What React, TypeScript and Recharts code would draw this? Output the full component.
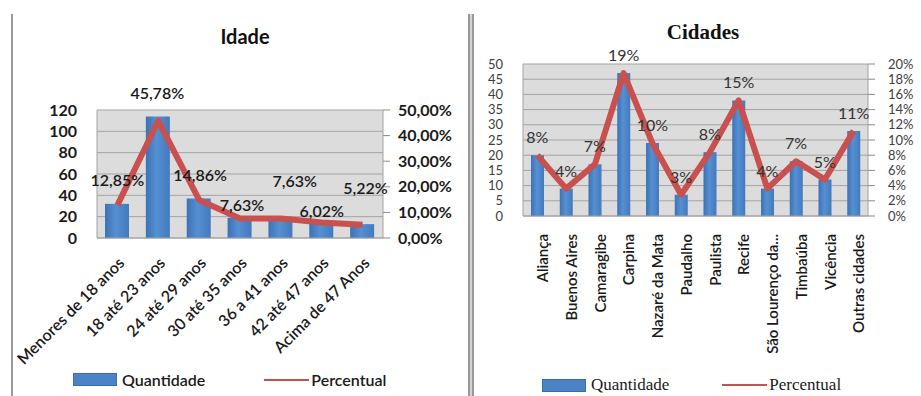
import React from 'react';
import { Bar, CartesianGrid, ComposedChart, LabelList, Legend, Line, XAxis, YAxis } from 'recharts';

// Idade
const idadeFaixas = [
  'Menores de 18 anos',
  '18 até 23 anos',
  '24 até 29 anos',
  '30 até 35 anos',
  '36 a 41 anos',
  '42 até 47 anos',
  'Acima de 47 Anos',
];
const idadeQuantidade = [32, 114, 37, 19, 19, 15, 13];
const idadePercentual = [12.85, 45.78, 14.86, 7.63, 7.63, 6.02, 5.22];
const idadeTicksQtd = [0, 20, 40, 60, 80, 100, 120];
const idadeTicksPct = [0, 10, 20, 30, 40, 50];

// Cidades
const cidades = [
  'Aliança',
  'Buenos Aires',
  'Camaragibe',
  'Carpina',
  'Nazaré da Mata',
  'Paudalho',
  'Paulista',
  'Recife',
  'São Lourenço da...',
  'Timbaúba',
  'Vicência',
  'Outras cidades',
];
const cidadesQuantidade = [20, 9, 17, 47, 24, 7, 21, 38, 9, 18, 12, 28];
const cidadesPercentual = [8.0, 3.6, 6.8, 18.8, 9.6, 2.8, 8.4, 15.2, 3.6, 7.2, 4.8, 11.2];
const cidadesTicksQtd = [0, 5, 10, 15, 20, 25, 30, 35, 40, 45, 50];
const cidadesTicksPct = [0, 2, 4, 6, 8, 10, 12, 14, 16, 18, 20];

// the Idade labels were moved by hand in the original, so nudge them the same way
const idadeLabelNudge = [
  [0, -19],
  [-1, -22],
  [1, -19],
  [2, -7],
  [14, -31],
  [0, -6],
  [3, -31],
];

const idadeData = idadeFaixas.map((name, i) => ({ name, qtd: idadeQuantidade[i], pct: idadePercentual[i] }));
const cidadesData = cidades.map((name, i) => ({ name, qtd: cidadesQuantidade[i], pct: cidadesPercentual[i] }));

const BLUE = '#4a83c6';
const RED = '#c8504e';
const GRID = '#a3a3a3';
const PLOT_BG = '#dcdcdc';

const fmtPct2 = (v: number) => v.toFixed(2).replace('.', ',') + '%';

const LegendBox = ({ font, size, weight, gap }: { font: string; size: number; weight: number | string; gap: number }) => (
  <div style={{ display: 'flex', alignItems: 'center', fontFamily: font, fontSize: size, fontWeight: weight, color: '#1a1a1a', whiteSpace: 'nowrap' }}>
    <span style={{ display: 'inline-block', width: 44, height: 13, background: BLUE, border: '1px solid #3b6ea8', boxSizing: 'border-box', marginRight: 5 }} />
    <span>Quantidade</span>
    <span style={{ display: 'inline-block', width: 45, height: 2, background: RED, marginLeft: gap, marginRight: 2 }} />
    <span>Percentual</span>
  </div>
);

const BarGradient = ({ id }: { id: string }) => (
  <defs>
    <linearGradient id={id} x1="0" y1="0" x2="1" y2="0">
      <stop offset="0%" stopColor="#3d72b4" />
      <stop offset="45%" stopColor="#5590d3" />
      <stop offset="100%" stopColor="#4379bd" />
    </linearGradient>
  </defs>
);

const IdadeChart = () => (
  <ComposedChart width={460} height={396} data={idadeData} margin={{ top: 110, right: 7, bottom: 58, left: 10 }}>
    <BarGradient id="barIdade" />
    <CartesianGrid yAxisId="qtd" vertical={false} fill={PLOT_BG} stroke={GRID} />
    <XAxis
      dataKey="name"
      interval={0}
      angle={-45}
      textAnchor="end"
      height={100}
      tickLine={false}
      tickSize={0}
      tickMargin={18}
      axisLine={{ stroke: GRID }}
      tick={{ fill: '#1a1a1a', fontSize: 16, fontFamily: 'Lato', fontWeight: 600 }}
    />
    <YAxis
      yAxisId="qtd"
      domain={[0, 120]}
      ticks={idadeTicksQtd}
      interval={0}
      width={87}
      tickLine={false}
      tickSize={0}
      tickMargin={20}
      axisLine={{ stroke: GRID }}
      tick={{ fill: '#1a1a1a', fontSize: 16, fontFamily: 'Lato', fontWeight: 700 }}
    />
    <YAxis
      yAxisId="pct"
      orientation="right"
      domain={[0, 50]}
      ticks={idadeTicksPct}
      interval={0}
      tickFormatter={fmtPct2}
      width={70}
      tickSize={7}
      tickMargin={8}
      axisLine={{ stroke: GRID }}
      tickLine={{ stroke: '#8a8a8a' }}
      tick={{ fill: '#1a1a1a', fontSize: 16, fontFamily: 'Lato', fontWeight: 700 }}
    />
    <Bar yAxisId="qtd" dataKey="qtd" name="Quantidade" fill="url(#barIdade)" barSize={24} isAnimationActive={false} />
    <Line
      yAxisId="pct"
      type="linear"
      dataKey="pct"
      name="Percentual"
      stroke={RED}
      strokeWidth={6}
      strokeLinejoin="round"
      dot={false}
      activeDot={false}
      isAnimationActive={false}
    >
      <LabelList
        dataKey="pct"
        content={(p: any) => {
          const [dx, dy] = idadeLabelNudge[p.index] || [0, -20];
          return (
            <text x={p.x + dx} y={p.y + dy} textAnchor="middle" fill="#1a1a1a" fontSize={16} fontFamily="Lato" fontWeight={600}>
              {fmtPct2(p.value)}
            </text>
          );
        }}
      />
    </Line>
    <Legend
      layout="horizontal"
      verticalAlign="middle"
      align="center"
      wrapperStyle={{ top: 370, left: 73, width: 360 }}
      content={() => <LegendBox font="Lato" size={16} weight={600} gap={59} />}
    />
  </ComposedChart>
);

const CidadesChart = () => (
  <ComposedChart width={451} height={396} data={cidadesData} margin={{ top: 64, right: 5, bottom: 50, left: 13 }}>
    <BarGradient id="barCidades" />
    <CartesianGrid yAxisId="qtd" vertical={false} fill={PLOT_BG} stroke={GRID} />
    <XAxis
      dataKey="name"
      interval={0}
      angle={-90}
      textAnchor="end"
      height={130}
      tickLine={false}
      tickSize={0}
      tickMargin={18}
      axisLine={{ stroke: GRID }}
      tick={{ fill: '#1a1a1a', fontSize: 15, fontFamily: 'Lato', fontWeight: 600 }}
    />
    <YAxis
      yAxisId="qtd"
      domain={[0, 50]}
      ticks={cidadesTicksQtd}
      interval={0}
      width={40}
      tickLine={false}
      tickSize={0}
      tickMargin={20}
      axisLine={{ stroke: GRID }}
      tick={{ fill: '#404040', fontSize: 13, fontFamily: 'Lato' }}
    />
    <YAxis
      yAxisId="pct"
      orientation="right"
      domain={[0, 20]}
      ticks={cidadesTicksPct}
      interval={0}
      tickFormatter={(v: number) => `${v}%`}
      width={48}
      tickSize={7}
      tickMargin={13}
      axisLine={{ stroke: GRID }}
      tickLine={{ stroke: '#8a8a8a' }}
      tick={{ fill: '#404040', fontSize: 13, fontFamily: 'Lato' }}
    />
    <Bar yAxisId="qtd" dataKey="qtd" name="Quantidade" fill="url(#barCidades)" barSize={13} isAnimationActive={false} />
    <Line
      yAxisId="pct"
      type="linear"
      dataKey="pct"
      name="Percentual"
      stroke={RED}
      strokeWidth={6}
      strokeLinejoin="round"
      dot={false}
      activeDot={false}
      isAnimationActive={false}
    >
      <LabelList
        dataKey="pct"
        content={(p: any) => (
          <text x={p.x} y={p.y - 12} textAnchor="middle" fill="#333" fontSize={16} fontFamily="Lato">
            {`${Math.round(p.value)}%`}
          </text>
        )}
      />
    </Line>
    <Legend
      layout="horizontal"
      verticalAlign="middle"
      align="center"
      wrapperStyle={{ top: 375, left: 72, width: 360 }}
      content={() => <LegendBox font="'Liberation Serif'" size={17} weight={400} gap={53} />}
    />
  </ComposedChart>
);

export default function App() {
  return (
    <div style={{ position: 'absolute', left: 0, top: 0, width: 921, height: 396, background: '#fff', overflow: 'hidden' }}>
      <div style={{ position: 'absolute', left: 11, top: 14, width: 2, height: 382, background: '#9a9a9a' }} />
      <div
        style={{
          position: 'absolute',
          left: 468,
          top: 14,
          width: 2,
          height: 382,
          background: '#d4d4d4',
          borderLeft: '2px solid #999',
          borderRight: '2px solid #999',
          zIndex: 2,
        }}
      />
      <div style={{ position: 'absolute', left: 0, top: 0 }}>
        <IdadeChart />
      </div>
      <div style={{ position: 'absolute', left: 470, top: 0 }}>
        <CidadesChart />
      </div>
      <div style={{ position: 'absolute', left: 195, top: 24, width: 100, textAlign: 'center', fontFamily: 'Lato', fontWeight: 700, fontSize: 20, color: '#111' }}>
        Idade
      </div>
      <div
        style={{
          position: 'absolute',
          left: 653,
          top: 20,
          width: 100,
          textAlign: 'center',
          fontFamily: "'Liberation Serif'",
          fontWeight: 700,
          fontSize: 21,
          color: '#111',
        }}
      >
        Cidades
      </div>
    </div>
  );
}
